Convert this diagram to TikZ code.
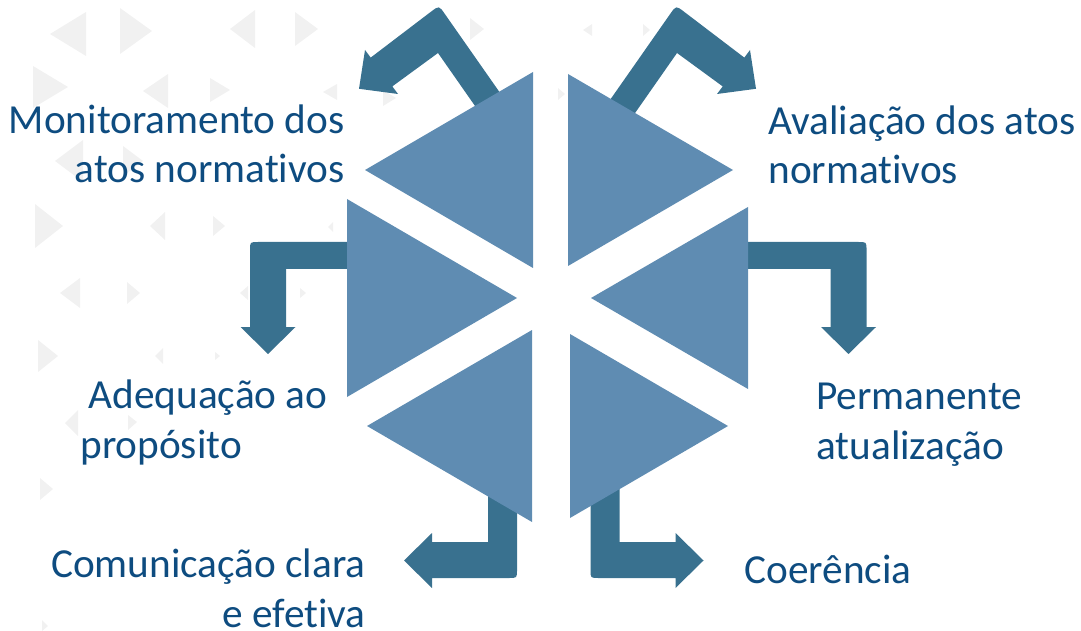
\documentclass[tikz,border=0pt]{standalone}
\usepackage{fontspec}
\setmainfont{Carlito}[Ligatures=NoCommon]
\usepackage{tikz}

\definecolor{trifill}{RGB}{95,140,178}
\definecolor{arrowfill}{RGB}{57,113,143}
\definecolor{labeltext}{RGB}{14,76,128}
\definecolor{bgtri}{RGB}{241,241,241}

\tikzset{lbl/.style={text=labeltext, font=\fontsize{23.5}{28.3}\selectfont, inner sep=0pt}}

\begin{document}
\begin{tikzpicture}[x=0.02cm, y=-0.02cm]
\useasboundingbox (0,0) rectangle (1081,631);

\begin{scope}[bgtri]
\fill (86,12)--(86,56)--(50,34)--cycle;
\fill (120,8)--(120,54)--(152,31)--cycle;
\fill (255,10)--(255,48)--(230,29)--cycle;
\fill (295,12)--(295,46)--(318,29)--cycle;
\fill (33,66)--(33,108)--(68,87)--cycle;
\fill (168,74)--(168,108)--(143,91)--cycle;
\fill (210,78)--(210,102)--(230,90)--cycle;
\fill (337,84)--(337,100)--(323,92)--cycle;
\fill (83,140)--(83,182)--(55,161)--cycle;
\fill (123,146)--(123,176)--(143,161)--cycle;
\fill (35,204)--(35,248)--(63,226)--cycle;
\fill (165,212)--(165,240)--(150,226)--cycle;
\fill (213,216)--(213,236)--(225,226)--cycle;
\fill (333,222)--(333,232)--(328,227)--cycle;
\fill (80,278)--(80,308)--(60,293)--cycle;
\fill (127,282)--(127,304)--(140,293)--cycle;
\fill (248,286)--(248,300)--(240,293)--cycle;
\fill (300,288)--(300,298)--(306,293)--cycle;
\fill (38,340)--(38,372)--(58,356)--cycle;
\fill (163,348)--(163,364)--(155,356)--cycle;
\fill (215,352)--(215,360)--(220,356)--cycle;
\fill (78,410)--(78,436)--(65,423)--cycle;
\fill (128,415)--(128,430)--(137,422)--cycle;
\fill (40,478)--(40,500)--(53,489)--cycle;
\fill (42,620)--(42,631)--(48,626)--cycle;
\fill (470,18)--(470,40)--(484,29)--cycle;
\fill (383,90)--(383,106)--(396,98)--cycle;
\fill (592,24)--(592,36)--(583,30)--cycle;
\fill (643,24)--(643,36)--(650,30)--cycle;
\fill (558,88)--(558,100)--(565,94)--cycle;
\end{scope}

\begin{scope}[arrowfill]
% top
\fill (513,111.4)--(444.7,13.8) .. controls (439,5.6) .. (431,11.7)--(370.7,57.6)--(365,50)--(359,88.8)--(398,94)--(392.3,86.4)--(438,53)--(490,127.4)--cycle;
\fill (602,111.4)--(670.3,13.8) .. controls (676,5.6) .. (684,11.7)--(744.3,57.6)--(750,50)--(756,88.8)--(717,94)--(722.7,86.4)--(677,53)--(625,127.4)--cycle;
% middle
\fill (365,242)--(258,242) .. controls (250,242) .. (250,250)--(250,327)--(240.5,327)--(268,354)--(295.5,327)--(286,327)--(286,269)--(365,269)--cycle;
\fill (735,242)--(858.5,242) .. controls (866.5,242) .. (866.5,250)--(866.5,327)--(876,327)--(848.5,354)--(821,327)--(830.5,327)--(830.5,269)--(735,269)--cycle;
% bottom
\fill (488,470)--(517,470)--(517,570) .. controls (517,578) .. (509,578)--(432,578)--(432,588)--(404,560.5)--(432,533)--(432,542)--(488,542)--cycle;
\fill (619.5,470)--(590.5,470)--(590.5,570) .. controls (590.5,578) .. (598.5,578)--(675.5,578)--(675.5,588)--(703.5,560.5)--(675.5,533)--(675.5,542)--(619.5,542)--cycle;
\end{scope}

\begin{scope}[trifill]
\fill (533,72)--(533,268)--(365,170)--cycle;
\fill (568,74)--(568,266)--(733,170)--cycle;
\fill (347,199)--(347,397)--(517,298)--cycle;
\fill (748,207)--(748,389)--(591,298)--cycle;
\fill (532,330)--(532,522)--(367,426)--cycle;
\fill (570,334)--(570,518)--(728,426)--cycle;
\end{scope}

\node[lbl, anchor=base east, align=right] (mon) at (345,183) {Monitoramento dos\\atos normativos};
\node[lbl, anchor=base west, align=left] (aval) at (768,184) {Avaliação dos atos\\normativos};
\node[lbl, anchor=base west, align=left] (adeq) at (80,458) {\hspace*{0.2em}Adequação ao\\propósito};
\node[lbl, anchor=base west, align=left] (perm) at (816,459) {Permanente\\atualização};
\node[lbl, anchor=base east, align=right] (comun) at (366,627) {Comunicação clara\\e efetiva};
\node[lbl, anchor=base west] (coer) at (744,583) {Coerência};

\end{tikzpicture}
\end{document}
